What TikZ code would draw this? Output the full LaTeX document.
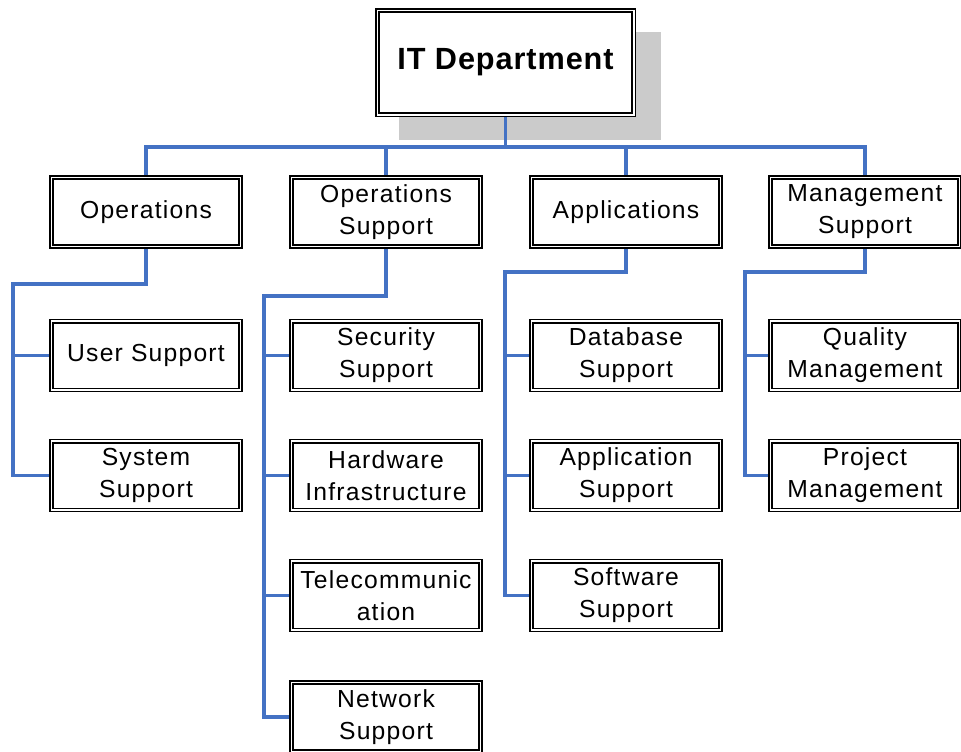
\documentclass[tikz,border=0pt]{standalone}
\usepackage{fontspec}
\newfontfamily\boxfont{Liberation Sans}[LetterSpace=5]
\newfontfamily\headfont{Liberation Sans}[LetterSpace=3]
\pgfdeclarelayer{bg}
\pgfsetlayers{bg,main}
\definecolor{linkblue}{HTML}{4472C4}
\definecolor{shadowgray}{HTML}{CBCBCB}
\tikzset{
  unitbox/.style={draw, line width=1.2pt, double, double distance=1.1pt, fill=white,
    minimum width=142pt, minimum height=51.5pt, inner sep=0pt, align=center,
    font=\boxfont\fontsize{18.5}{24}\selectfont},
  headbox/.style={unitbox, minimum width=192.4pt, minimum height=78.4pt,
    font=\headfont\bfseries\fontsize{23}{28}\selectfont},
  link/.style={draw=linkblue, line width=2.6pt},
}
\begin{document}
\begin{tikzpicture}[x=0.75pt, y=-0.75pt]
\useasboundingbox (0,0) rectangle (961,751);

% top of the chart
\node[headbox] (it) at (505.5,62.5) {IT Department};

% first level
\node[unitbox] (ops)   at (146,212) {Operations};
\node[unitbox] (opsup) at (386,212) {Operations\\Support};
\node[unitbox] (apps)  at (626,212) {Applications};
\node[unitbox] (mgmt)  at (865,212) {Management\\Support};

% second level
\node[unitbox] (usr)  at (146,355.5) {User Support};
\node[unitbox] (sys)  at (146,475.5) {System\\Support};

\node[unitbox] (sec)  at (386,355.5) {Security\\Support};
\node[unitbox] (hw)   at (386,475.5) {Hardware\\Infrastructure};
\node[unitbox] (tel)  at (386,595.5) {Telecommunic\\ation};
\node[unitbox] (net)  at (386,717)   {Network\\Support};

\node[unitbox] (db)   at (626,355.5) {Database\\Support};
\node[unitbox] (appsup) at (626,475.5) {Application\\Support};
\node[unitbox] (sw)   at (626,595.5) {Software\\Support};

\node[unitbox] (qm)   at (865,355.5) {Quality\\Management};
\node[unitbox] (pm)   at (865,475.5) {Project\\Management};

% bus and spine corners
\coordinate (bus) at (0,147);
\coordinate (knA) at (13,284);
\coordinate (knB) at (264,296);
\coordinate (knC) at (505,272);
\coordinate (knD) at (745,272);

\begin{pgfonlayer}{bg}
  % drop shadow of the top box
  \fill[shadowgray] (399,32) rectangle (661,140);

  \draw[link] (it.south) -- (it.south |- bus) -| (ops.north);
  \draw[link] (it.south |- bus) -| (opsup.north);
  \draw[link] (it.south |- bus) -| (apps.north);
  \draw[link] (it.south |- bus) -| (mgmt.north);

  \draw[link] (ops.south) |- (knA) |- (usr.west);
  \draw[link] (knA) |- (sys.west);

  \draw[link] (opsup.south) |- (knB) |- (sec.west);
  \draw[link] (knB) |- (hw.west);
  \draw[link] (knB) |- (tel.west);
  \draw[link] (knB) |- (net.west);

  \draw[link] (apps.south) |- (knC) |- (db.west);
  \draw[link] (knC) |- (appsup.west);
  \draw[link] (knC) |- (sw.west);

  \draw[link] (mgmt.south) |- (knD) |- (qm.west);
  \draw[link] (knD) |- (pm.west);
\end{pgfonlayer}
\end{tikzpicture}
\end{document}
